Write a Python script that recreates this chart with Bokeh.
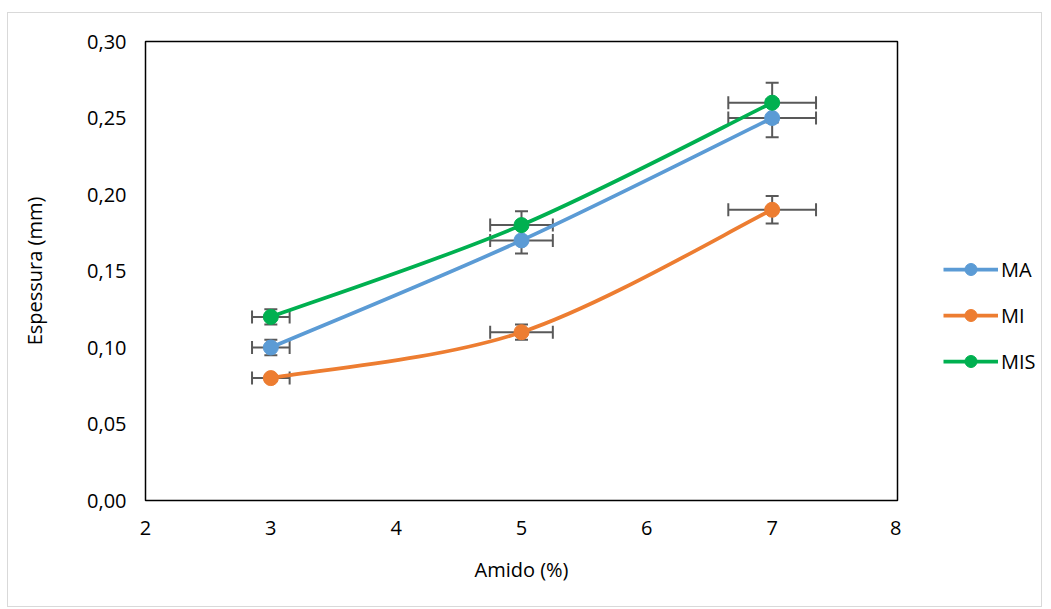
from bokeh.plotting import figure
from bokeh.layouts import row
from bokeh.models import (ColumnDataSource, Whisker, TeeHead, FixedTicker, Legend, LegendItem)
from bokeh.embed import file_html
from bokeh.resources import INLINE

amido = [3, 5, 7]
series_names = ["MA", "MI", "MIS"]
ma = [0.10, 0.17, 0.25]
mi = [0.08, 0.11, 0.19]
mis = [0.12, 0.18, 0.26]
ma_yerr = [0.005, 0.0085, 0.0125]
mi_yerr = [0.002, 0.005, 0.009]
mis_yerr = [0.005, 0.009, 0.013]
x_err = [0.15, 0.25, 0.35]
colors = ["#5B9BD5", "#ED7D31", "#00B050"]
y_ticks = [0.0, 0.05, 0.10, 0.15, 0.20, 0.25, 0.30]
y_tick_labels = ["0,00", "0,05", "0,10", "0,15", "0,20", "0,25", "0,30"]
x_ticks = [2, 3, 4, 5, 6, 7, 8]

FONT = "Open Sans"
NAN = float("nan")

p = figure(width=893, height=593, x_range=(2, 8), y_range=(0, 0.30),
           output_backend="svg", toolbar_location=None,
           min_border_left=137, min_border_right=4, min_border_top=28, min_border_bottom=106)
p.xgrid.visible = False
p.ygrid.visible = False
p.outline_line_color = "black"
p.outline_line_width = 1.5
p.background_fill_color = "white"
p.border_fill_color = "white"

for ax in (p.xaxis[0], p.yaxis[0]):
    ax.axis_line_color = None
    ax.major_tick_line_color = None
    ax.minor_tick_line_color = None
    ax.major_label_text_font = FONT
    ax.major_label_text_font_size = "20px"
    ax.major_label_text_color = "#000000"
    ax.axis_label_text_font = FONT
    ax.axis_label_text_font_size = "20px"
    ax.axis_label_text_font_style = "normal"
    ax.axis_label_text_color = "#000000"

p.yaxis.ticker = FixedTicker(ticks=y_ticks)
p.yaxis.major_label_overrides = {t: l for t, l in zip(y_ticks, y_tick_labels)}
p.xaxis.ticker = FixedTicker(ticks=x_ticks)
p.yaxis.major_label_standoff = 13
p.xaxis.major_label_standoff = 14
p.xaxis.axis_label = "Amido (%)"
p.yaxis.axis_label = "Espessura (mm)"
p.xaxis.axis_label_standoff = 18
p.yaxis.axis_label_standoff = 36


def bezier_cols(xs, ys):
    n = len(xs)
    x0, y0, x1, y1, cx0, cy0, cx1, cy1 = [], [], [], [], [], [], [], []
    for i in range(n - 1):
        pm = max(i - 1, 0)
        pp = min(i + 2, n - 1)
        x0.append(xs[i]); y0.append(ys[i])
        x1.append(xs[i + 1]); y1.append(ys[i + 1])
        cx0.append(xs[i] + (xs[i + 1] - xs[pm]) / 6)
        cy0.append(ys[i] + (ys[i + 1] - ys[pm]) / 6)
        cx1.append(xs[i + 1] - (xs[pp] - xs[i]) / 6)
        cy1.append(ys[i + 1] - (ys[pp] - ys[i]) / 6)
    return dict(x0=x0, y0=y0, x1=x1, y1=y1, cx0=cx0, cy0=cy0, cx1=cx1, cy1=cy1)


# legend figure
pl = figure(width=140, height=593, x_range=(0, 1), y_range=(0, 1),
            output_backend="svg", toolbar_location=None,
            min_border_left=0, min_border_right=0, min_border_top=0, min_border_bottom=0)
pl.axis.visible = False
pl.grid.visible = False
pl.outline_line_color = None
pl.border_fill_color = "white"

items = []
all_y = [ma, mi, mis]
all_err = [ma_yerr, mi_yerr, mis_yerr]
for name, ys, yerr, col in zip(series_names, all_y, all_err, colors):
    src = ColumnDataSource(dict(
        x=amido, y=ys,
        ylo=[v - e for v, e in zip(ys, yerr)], yhi=[v + e for v, e in zip(ys, yerr)],
        xlo=[v - e for v, e in zip(amido, x_err)], xhi=[v + e for v, e in zip(amido, x_err)],
    ))
    for dim, lo, hi, base in (("height", "ylo", "yhi", "x"), ("width", "xlo", "xhi", "y")):
        w = Whisker(source=src, base=base, lower=lo, upper=hi, dimension=dim,
                    line_color="#595959", line_width=2, level="underlay",
                    upper_head=TeeHead(size=13, line_color="#595959", line_width=2),
                    lower_head=TeeHead(size=13, line_color="#595959", line_width=2))
        p.add_layout(w)
    bsrc = ColumnDataSource(bezier_cols(amido, ys))
    p.bezier(x0="x0", y0="y0", x1="x1", y1="y1", cx0="cx0", cy0="cy0", cx1="cx1", cy1="cy1",
             source=bsrc, line_color=col, line_width=3.75)
    p.scatter(x="x", y="y", source=src, size=15, fill_color=col, line_color=col)
    # legend-only renderers (not drawn: NaN data)
    l_line = pl.line(x=[NAN, NAN], y=[NAN, NAN], line_color=col, line_width=3.75)
    l_sc = pl.scatter(x=[NAN], y=[NAN], size=15, fill_color=col, line_color=col)
    items.append(LegendItem(label=name, renderers=[l_line, l_sc]))

legend = Legend(items=items, location=(42, 124), orientation="vertical",
                label_text_font=FONT, label_text_font_size="20px", label_text_color="#000000",
                glyph_width=55, glyph_height=30, spacing=16, padding=0, margin=0,
                label_standoff=3, background_fill_alpha=0, border_line_color=None)
pl.add_layout(legend, "center")

layout = row(p, pl)
layout.styles = {"margin-left": "7px", "margin-top": "12px", "border": "1px solid #d9d9d9",
                 "background-color": "white"}

open("out.html", "w").write(file_html(layout, INLINE))
